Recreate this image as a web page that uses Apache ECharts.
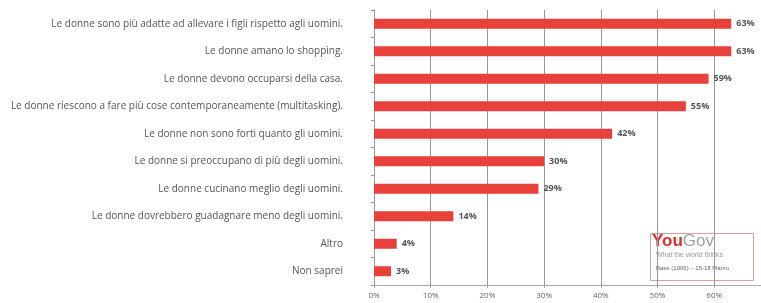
<!DOCTYPE html>
<html><head><meta charset="utf-8">
<script src="https://cdn.jsdelivr.net/npm/echarts@6/dist/echarts.min.js"></script>
<style>html,body{margin:0;padding:0;background:#fff}#c{width:761px;height:303px}</style>
</head><body><div id="c"></div>
<script>
const categories = [
  "Le donne sono più adatte ad allevare i figli rispetto agli uomini.",
  "Le donne amano lo shopping.",
  "Le donne devono occuparsi della casa.",
  "Le donne riescono a fare più cose contemporaneamente (multitasking).",
  "Le donne non sono forti quanto gli uomini.",
  "Le donne si preoccupano di più degli uomini.",
  "Le donne cucinano meglio degli uomini.",
  "Le donne dovrebbero guadagnare meno degli uomini.",
  "Altro",
  "Non saprei"
];
const values = [63, 63, 59, 55, 42, 30, 29, 14, 4, 3];

const chart = echarts.init(document.getElementById('c'), null, {renderer: 'canvas'});
chart.setOption({
  animation: false,
  grid: {left: 374, top: 10, bottom: 18, right: 0, containLabel: false},
  xAxis: {
    type: 'value', min: 0, max: 68.25, interval: 10,
    axisLine: {show: true, lineStyle: {color: '#aaa'}},
    axisTick: {show: true, length: 3, lineStyle: {color: '#aaa'}},
    splitLine: {show: true, lineStyle: {color: ['#999','#999','#999','#999','#999','#999','#999','rgba(0,0,0,0)'], width: 1}},
    axisLabel: {formatter: v => v + '%', color: '#666', fontSize: 8, margin: 7, fontFamily: 'Open Sans', showMaxLabel: false}
  },
  yAxis: {
    type: 'category', data: categories, inverse: true,
    axisLine: {show: true, lineStyle: {color: '#999'}},
    axisTick: {show: true, length: 3, lineStyle: {color: '#999'}},
    axisLabel: {color: '#555', fontSize: 10, margin: 31, fontFamily: 'Open Sans'}
  },
  series: [{
    type: 'bar', data: values, barWidth: 10,
    itemStyle: {color: '#e8413b'},
    label: {show: true, position: 'right', distance: 5, formatter: p => p.value + '%',
      color: '#555', fontSize: 9, fontWeight: 'bold', fontFamily: 'Open Sans'}
  }],
  graphic: [
    {type: 'rect', left: 650, top: 233, shape: {width: 103, height: 47},
     style: {fill: '#fff', stroke: '#d9a0a0', lineWidth: 1}},
    {type: 'text', left: 652, top: 233, style: {
      text: '{a|You}{b|Gov}',
      rich: {
        a: {fill: '#d9302a', font: 'bold 17px "Liberation Sans"'},
        b: {fill: '#a0a0a0', font: '17px "Liberation Sans"'}
      }}},
    {type: 'text', left: 656, top: 252, style: {text: 'What the world thinks', fill: '#999', font: '7px "Liberation Sans"'}},
    {type: 'text', left: 656, top: 265, style: {text: 'Base (1006) – 15-18 Marzo', fill: '#666', font: '6px "Liberation Sans"'}}
  ]
});
</script></body></html>
